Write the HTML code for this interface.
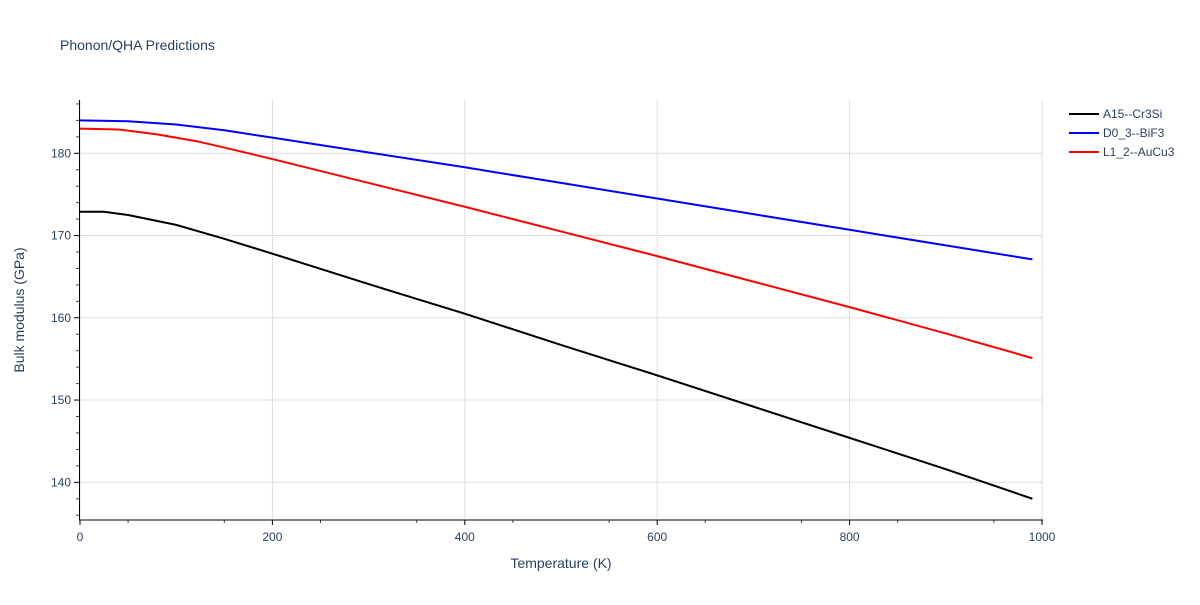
<!DOCTYPE html>
<html><head><meta charset="utf-8"><style>
body{margin:0;background:#fff;font-family:"Liberation Sans",sans-serif}
text{font-family:"Liberation Sans",sans-serif}
</style></head><body>
<svg id="chart" width="1200" height="600" xmlns="http://www.w3.org/2000/svg">
<text x="60" y="50" font-size="14" fill="#2a3f5f">Phonon/QHA Predictions</text>
<g id="grid"></g><g id="axes"></g><g id="series"></g>
<text x="561" y="568" font-size="14" fill="#2a3f5f" text-anchor="middle">Temperature (K)</text>
<text transform="translate(24,310) rotate(-90)" font-size="14" fill="#2a3f5f" text-anchor="middle">Bulk modulus (GPa)</text>
<g id="legend"></g>
</svg>
<script>
const seriesNames=["A15--Cr3Si","D0_3--BiF3","L1_2--AuCu3"];
const seriesColors=["#000000","#0000ff","#ff0000"];
const tempsA=[0,25,50,100,150,200,300,400,500,600,700,800,900,990];
const valsA=[172.9,172.9,172.5,171.3,169.6,167.8,164.1,160.5,156.7,153.0,149.2,145.4,141.6,138.0];
const tempsB=[0,50,100,150,200,300,400,500,600,700,800,900,990];
const valsB=[184.0,183.9,183.5,182.8,181.9,180.1,178.3,176.4,174.5,172.6,170.7,168.8,167.1];
const tempsC=[0,40,80,120,150,200,300,400,500,600,700,800,900,990];
const valsC=[183.0,182.9,182.3,181.5,180.7,179.3,176.4,173.5,170.5,167.5,164.4,161.3,158.1,155.1];
const xTicks=[0,200,400,600,800,1000];
const yTicks=[140,150,160,170,180];
const NS="http://www.w3.org/2000/svg";
const X0=80,X1=1042,Y_TOP=100,Y_BOT=519;
const xs=v=>X0+(v/1000)*(X1-X0);
const ys=v=>153.3+(180-v)*8.225;
function mk(t,a,p){const e=document.createElementNS(NS,t);for(const k in a)e.setAttribute(k,a[k]);p.appendChild(e);return e;}
const grid=document.getElementById('grid'),axes=document.getElementById('axes');
xTicks.forEach(t=>{const l=mk('line',{x1:xs(t),x2:xs(t),y1:Y_TOP,y2:Y_BOT,stroke:'#dddddd'},grid);


const tx=mk('text',{x:xs(t),y:541,'font-size':12,fill:'#2a3f5f','text-anchor':'middle'},axes);tx.textContent=t;


mk('line',{x1:xs(t),x2:xs(t),y1:520,y2:525,stroke:'#000'},axes);});
for(let t=50;t<1000;t+=100){mk('line',{x1:xs(t),x2:xs(t),y1:520,y2:523,stroke:'#444'},axes);}
yTicks.forEach(t=>{const l=mk('line',{x1:X0,x2:1043,y1:ys(t),y2:ys(t),stroke:'#dddddd'},grid);


const tx=mk('text',{x:71,y:ys(t)+4,'font-size':12,fill:'#2a3f5f','text-anchor':'end'},axes);tx.textContent=t;


mk('line',{x1:74,x2:79,y1:ys(t),y2:ys(t),stroke:'#000'},axes);});
for(let t=136;t<=186;t+=2){if(t%10)mk('line',{x1:76,x2:79,y1:ys(t),y2:ys(t),stroke:'#444'},axes);}
const ya=mk('line',{x1:79.5,x2:79.5,y1:Y_TOP,y2:520,stroke:'#000'},axes);


const xa=mk('line',{x1:79,x2:1043,y1:520,y2:520,stroke:'#000'},axes);


const data=[[tempsA,valsA],[tempsB,valsB],[tempsC,valsC]];
const sg=document.getElementById('series'),lg=document.getElementById('legend');
data.forEach((d,i)=>{const p=mk('polyline',{points:d[0].map((t,j)=>xs(t)+','+ys(d[1][j])).join(' '),fill:'none',stroke:seriesColors[i],'stroke-width':2,'stroke-linejoin':'round'},sg);


const y=114+i*19;
const g=mk('g',{},lg);


mk('line',{x1:1069,x2:1099,y1:y,y2:y,stroke:seriesColors[i],'stroke-width':2},g);
const tx=mk('text',{x:1103,y:y+4,'font-size':12,fill:'#2a3f5f'},g);tx.textContent=seriesNames[i];});
</script>
</body></html>
